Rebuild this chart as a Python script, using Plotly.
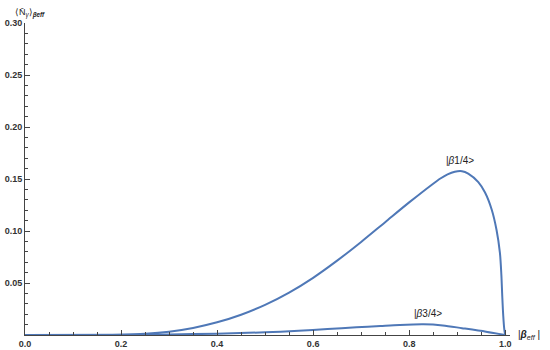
import plotly.graph_objects as go

# |β1/4> curve
x1 = [0.0, 0.1, 0.15, 0.2, 0.25, 0.3, 0.35, 0.4, 0.45, 0.5, 0.55, 0.6, 0.65, 0.7, 0.75, 0.8, 0.85, 0.865, 0.88, 0.895, 0.91,
      0.923, 0.944, 0.958, 0.972, 0.982, 0.989, 0.992, 0.994, 0.996, 0.998, 1.0]
y1 = [0.0, 0.0, 0.00005, 0.0003, 0.0012, 0.0032, 0.0068, 0.0122, 0.0195, 0.029, 0.0408, 0.055, 0.0715, 0.0895, 0.1085, 0.1275, 0.1455, 0.1505, 0.1545, 0.1570, 0.1575,
      0.1552, 0.147, 0.137, 0.1205, 0.101, 0.079, 0.058, 0.036, 0.018, 0.006, 0.0]

# |β3/4> curve
x2 = [0.0, 0.2, 0.3, 0.4, 0.5, 0.57, 0.63, 0.69, 0.74, 0.78, 0.83, 0.87, 0.91, 0.96, 1.0]
y2 = [0.0, 0.0002, 0.0006, 0.0012, 0.0026, 0.004, 0.0057, 0.0074, 0.0087, 0.0097, 0.0103, 0.0092, 0.0066, 0.0032, 0.0]

x_ticks = [0.0, 0.2, 0.4, 0.6, 0.8, 1.0]
y_ticks = [0.05, 0.10, 0.15, 0.20, 0.25, 0.30]

color = "#4F78B7"
axcol = "#444444"

fig = go.Figure()
fig.add_trace(go.Scatter(x=x1, y=y1, mode="lines", line=dict(color=color, width=2, shape="spline", smoothing=0.8), showlegend=False))
fig.add_trace(go.Scatter(x=x2, y=y2, mode="lines", line=dict(color=color, width=2, shape="spline", smoothing=0.8), showlegend=False))

font_fam = "Liberation Sans, Arial, sans-serif"
fig.update_layout(
    width=550, height=350,
    margin=dict(l=25, r=40, t=23, b=15, autoexpand=False),
    plot_bgcolor="white", paper_bgcolor="white",
    font=dict(family=font_fam, size=10, color="#222"),
    xaxis=dict(range=[0, 1.01], automargin=False, showline=True, linecolor=axcol, linewidth=1,
               showgrid=False, zeroline=False, ticks="inside", ticklen=5, tickcolor=axcol,
               tickvals=x_ticks, ticktext=["%.1f" % v for v in x_ticks],
               tickfont=dict(family=font_fam, size=9, color="#333", weight="bold"),
               minor=dict(dtick=0.05, ticks="inside", ticklen=3, tickcolor=axcol, showgrid=False)),
    yaxis=dict(range=[0, 0.30], automargin=False, showline=True, linecolor=axcol, linewidth=1,
               showgrid=False, zeroline=False, ticks="inside", ticklen=5, tickcolor=axcol,
               tickvals=y_ticks, ticktext=["%.2f" % v for v in y_ticks],
               tickfont=dict(family=font_fam, size=9, color="#333", weight="bold"),
               minor=dict(dtick=0.01, ticks="inside", ticklen=3, tickcolor=axcol, showgrid=False)),
    annotations=[
        dict(x=0.905, y=0.1605, xref="x", yref="y", text="|<i>β</i>1/4>", showarrow=False,
             yanchor="bottom", font=dict(size=10, color="#222")),
        dict(x=0.84, y=0.0135, xref="x", yref="y", text="|<i>β</i>3/4>", showarrow=False,
             yanchor="bottom", font=dict(size=10, color="#222")),
        dict(x=1.0, y=0, xref="paper", yref="y", xshift=6, text="|<i><b>β</b><sub>eff</sub></i> |", showarrow=False,
             xanchor="left", yanchor="middle", font=dict(size=10, color="#222")),
        dict(x=0, y=1, xref="paper", yref="paper", xshift=5, yshift=2, text="⟨N̄<sub><i>γ</i></sub>⟩<sub><i><b>βeff</b></i></sub>", showarrow=False,
             xanchor="center", yanchor="bottom", font=dict(size=9, color="#222")),
    ],
)
fig.write_html("out.html", config={"displayModeBar": False},
               post_script="document.body.style.margin='0';document.body.style.padding='0';")
